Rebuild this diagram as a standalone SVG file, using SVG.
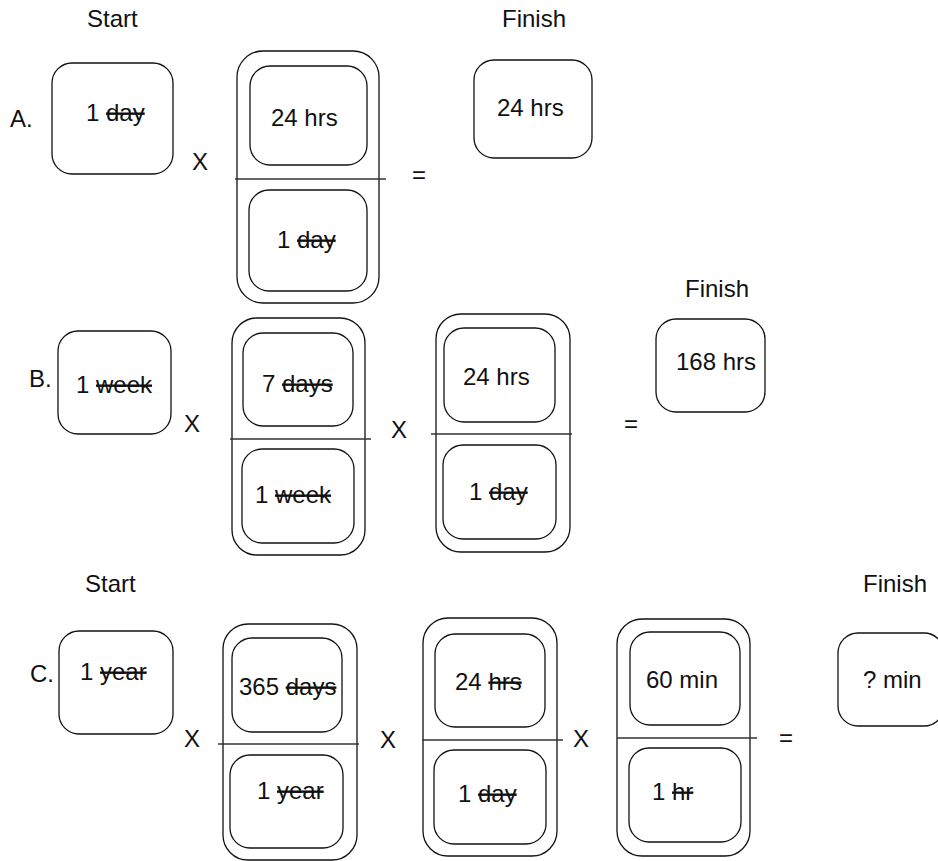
<svg xmlns="http://www.w3.org/2000/svg" width="938" height="861" viewBox="0 0 938 861">
<style>
text{font-family:"Liberation Sans",Arial,sans-serif;font-size:24px;fill:#111}
.s{text-decoration:line-through}
.box{fill:none;stroke:#111;stroke-width:1.3}
.div{stroke:#333;stroke-width:1.6}
</style>
<rect width="938" height="861" fill="#fff"/>
<g id="headers">
<text x="87" y="27">Start</text>
<text x="502" y="27">Finish</text>
<text x="685" y="297">Finish</text>
<text x="85" y="592">Start</text>
<text x="863" y="592">Finish</text>
</g>
<g id="labels">
<text x="10" y="127">A.</text>
<text x="29" y="387">B.</text>
<text x="30" y="682">C.</text>
</g>
<g id="operators">
<text x="192" y="170">X</text>
<text x="412" y="183">=</text>
<text x="184" y="432">X</text>
<text x="391" y="438">X</text>
<text x="624" y="432">=</text>
<text x="184" y="747">X</text>
<text x="380" y="748">X</text>
<text x="573" y="747">X</text>
<text x="779" y="746">=</text>
</g>
<g id="a-start">
<rect class="box" x="52" y="63" width="121" height="111" rx="20"/>
<text x="86" y="121">1 <tspan class="s">day</tspan></text>
</g>
<g id="a-frac">
<rect class="box" x="237" y="51" width="142" height="252" rx="26"/>
<rect class="box" x="250" y="66" width="117" height="99" rx="20"/>
<rect class="box" x="249" y="190" width="118" height="101" rx="20"/>
<line class="div" x1="235" y1="179" x2="386" y2="179"/>
<text x="271" y="126">24 hrs</text>
<text x="277" y="248">1 <tspan class="s">day</tspan></text>
</g>
<g id="a-finish">
<rect class="box" x="474" y="60" width="118" height="98" rx="20"/>
<text x="497" y="116">24 hrs</text>
</g>
<g id="b-start">
<rect class="box" x="58" y="331" width="113" height="103" rx="20"/>
<text x="76" y="393">1 <tspan class="s">week</tspan></text>
</g>
<g id="b-frac1">
<rect class="box" x="232" y="318" width="133" height="237" rx="25"/>
<rect class="box" x="243" y="333" width="110" height="93" rx="20"/>
<rect class="box" x="242" y="449" width="112" height="94" rx="20"/>
<line class="div" x1="230" y1="439" x2="371" y2="439"/>
<text x="262" y="392">7 <tspan class="s">days</tspan></text>
<text x="255" y="503">1 <tspan class="s">week</tspan></text>
</g>
<g id="b-frac2">
<rect class="box" x="436" y="314" width="134" height="238" rx="25"/>
<rect class="box" x="444" y="328" width="111" height="94" rx="20"/>
<rect class="box" x="443" y="445" width="113" height="94" rx="20"/>
<line class="div" x1="431" y1="434" x2="572" y2="434"/>
<text x="463" y="385">24 hrs</text>
<text x="469" y="500">1 <tspan class="s">day</tspan></text>
</g>
<g id="b-finish">
<rect class="box" x="656" y="319" width="109" height="93" rx="20"/>
<text x="676" y="370">168 hrs</text>
</g>
<g id="c-start">
<rect class="box" x="59" y="631" width="114" height="103" rx="20"/>
<text x="80" y="680">1 <tspan class="s">year</tspan></text>
</g>
<g id="c-frac1">
<rect class="box" x="223" y="624" width="134" height="236" rx="25"/>
<rect class="box" x="232" y="638" width="110" height="94" rx="20"/>
<rect class="box" x="230" y="755" width="113" height="93" rx="20"/>
<line class="div" x1="218" y1="744" x2="359" y2="744"/>
<text x="239" y="695">365 <tspan class="s">days</tspan></text>
<text x="257" y="799">1 <tspan class="s">year</tspan></text>
</g>
<g id="c-frac2">
<rect class="box" x="423" y="618" width="134" height="238" rx="25"/>
<rect class="box" x="435" y="634" width="110" height="93" rx="20"/>
<rect class="box" x="434" y="750" width="112" height="94" rx="20"/>
<line class="div" x1="422" y1="740" x2="563" y2="740"/>
<text x="455" y="690">24 <tspan class="s">hrs</tspan></text>
<text x="458" y="802">1 <tspan class="s">day</tspan></text>
</g>
<g id="c-frac3">
<rect class="box" x="617" y="619" width="133" height="237" rx="25"/>
<rect class="box" x="630" y="632" width="110" height="93" rx="20"/>
<rect class="box" x="629" y="748" width="112" height="94" rx="20"/>
<line class="div" x1="617" y1="738" x2="757" y2="738"/>
<text x="646" y="688">60 min</text>
<text x="652" y="800">1 <tspan class="s">hr</tspan></text>
</g>
<g id="c-finish">
<rect class="box" x="838" y="633" width="106" height="93" rx="20"/>
<text x="863" y="688">? min</text>
</g>
</svg>
